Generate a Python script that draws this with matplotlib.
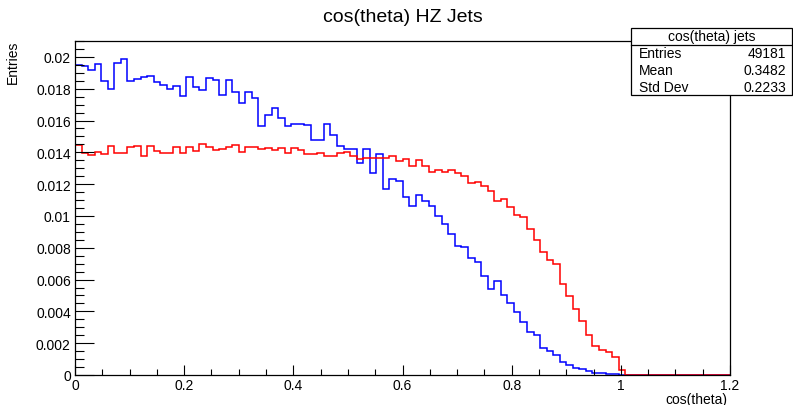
import numpy as np
import matplotlib
matplotlib.use("Agg")
import matplotlib.pyplot as plt
from matplotlib.patches import Rectangle
from matplotlib.lines import Line2D
from matplotlib.ticker import MultipleLocator, FuncFormatter

# histogram binning: 100 bins on [0, 1.2]
edges = np.linspace(0.0, 1.2, 101)

# HZ jets (blue), bins 0..83, rest empty
blue_vals = [
    0.01951, 0.01941, 0.01920, 0.01958, 0.01846, 0.01800, 0.01962, 0.01987, 0.01846, 0.01861,
    0.01876, 0.01878, 0.01842, 0.01826, 0.01800, 0.01819, 0.01752, 0.01872, 0.01811, 0.01790,
    0.01867, 0.01857, 0.01763, 0.01857, 0.01781, 0.01712, 0.01779, 0.01744, 0.01567, 0.01632,
    0.01676, 0.01613, 0.01563, 0.01578, 0.01580, 0.01574, 0.01477, 0.01479, 0.01578, 0.01511,
    0.01442, 0.01422, 0.01422, 0.01332, 0.01418, 0.01273, 0.01389, 0.01172, 0.01235, 0.01222,
    0.01117, 0.01062, 0.01130, 0.01095, 0.01062, 0.01002, 0.00950, 0.00889, 0.00809, 0.00807,
    0.00736, 0.00710, 0.00621, 0.00543, 0.00589, 0.00503, 0.00453, 0.00394, 0.00333, 0.00271,
    0.00254, 0.00170, 0.00152, 0.00128, 0.00081, 0.00060, 0.00041, 0.00036, 0.00024, 0.00015,
    0.00011, 0.00008, 0.00005, 0.00002,
]
# second sample (red)
red_vals = [
    0.01448, 0.01395, 0.01385, 0.01402, 0.01391, 0.01441, 0.01397, 0.01397, 0.01431, 0.01441,
    0.01374, 0.01437, 0.01410, 0.01395, 0.01397, 0.01431, 0.01393, 0.01433, 0.01410, 0.01452,
    0.01433, 0.01412, 0.01420, 0.01431, 0.01443, 0.01400, 0.01433, 0.01433, 0.01424, 0.01430,
    0.01415, 0.01427, 0.01395, 0.01427, 0.01416, 0.01391, 0.01389, 0.01395, 0.01379, 0.01379,
    0.01393, 0.01404, 0.01374, 0.01361, 0.01363, 0.01363, 0.01365, 0.01365, 0.01374, 0.01347,
    0.01361, 0.01311, 0.01353, 0.01311, 0.01279, 0.01288, 0.01277, 0.01288, 0.01267, 0.01250,
    0.01208, 0.01215, 0.01190, 0.01160, 0.01095, 0.01105, 0.01055, 0.01009, 0.00992, 0.00916,
    0.00849, 0.00775, 0.00725, 0.00695, 0.00575, 0.00495, 0.00418, 0.00338, 0.00252, 0.00185,
    0.00157, 0.00142, 0.00113, 0.00033,
]
blue_vals = blue_vals + [0.0] * (100 - len(blue_vals))
red_vals = red_vals + [0.0] * (100 - len(red_vals))

stats_title = "cos(theta) jets"
stats_rows = [("Entries", "49181"), ("Mean", "0.3482"), ("Std Dev", "0.2233")]

plt.rcParams["font.family"] = ["Liberation Sans", "DejaVu Sans"]

W, H = 793, 406
fig = plt.figure(figsize=(W / 100, H / 100), dpi=100)
ax = fig.add_axes([75 / W, 1 - 376 / H, 655 / W, 334 / H])

ax.stairs(blue_vals, edges, color="#0000ff", lw=1.1)
ax.stairs(red_vals, edges, color="#ff0000", lw=1.1)

ax.set_xlim(0, 1.2)
ax.set_ylim(0, 0.021)

fmt = FuncFormatter(lambda v, p: "%g" % round(v, 6))
ax.xaxis.set_major_locator(MultipleLocator(0.2))
ax.xaxis.set_minor_locator(MultipleLocator(0.05))
ax.yaxis.set_major_locator(MultipleLocator(0.002))
ax.yaxis.set_minor_locator(MultipleLocator(0.0005))
ax.xaxis.set_major_formatter(fmt)
ax.yaxis.set_major_formatter(fmt)

ax.tick_params(axis="both", which="both", direction="in", top=False, right=False,
               labelsize=10, width=0.8)
ax.tick_params(axis="y", which="major", length=13.5, pad=3)
ax.tick_params(axis="y", which="minor", length=6.5)
ax.tick_params(axis="x", which="major", length=7.2, pad=2)
ax.tick_params(axis="x", which="minor", length=4)
for s in ax.spines.values():
    s.set_linewidth(0.9)

fig.text(403 / W, 1 - 17 / H, "cos(theta) HZ Jets", ha="center", va="center", fontsize=14)
fig.text(13 / W, 1 - 41 / H, "Entries", rotation=90, ha="center", va="top", fontsize=10)
fig.text(727 / W, 1 - 400 / H, "cos(theta)", ha="right", va="center", fontsize=10)

# stats box
bx0, bx1, by0, by1 = 631, 792, 29, 96
fig.add_artist(Rectangle((bx0 / W, 1 - by1 / H), (bx1 - bx0) / W, (by1 - by0) / H,
                         transform=fig.transFigure, facecolor="white",
                         edgecolor="black", lw=0.9))
fig.add_artist(Line2D([bx0 / W, bx1 / W], [1 - 46 / H, 1 - 46 / H],
                      transform=fig.transFigure, color="black", lw=0.9))
fig.text((bx0 + bx1) / 2 / W, 1 - 37.5 / H, stats_title, ha="center", va="center", fontsize=10)
for i, (name, val) in enumerate(stats_rows):
    yy = 1 - (54.5 + i * 16.7) / H
    fig.text(639 / W, yy, name, ha="left", va="center", fontsize=10)
    fig.text(786 / W, yy, val, ha="right", va="center", fontsize=10)

fig.savefig("out.png", dpi=100)
